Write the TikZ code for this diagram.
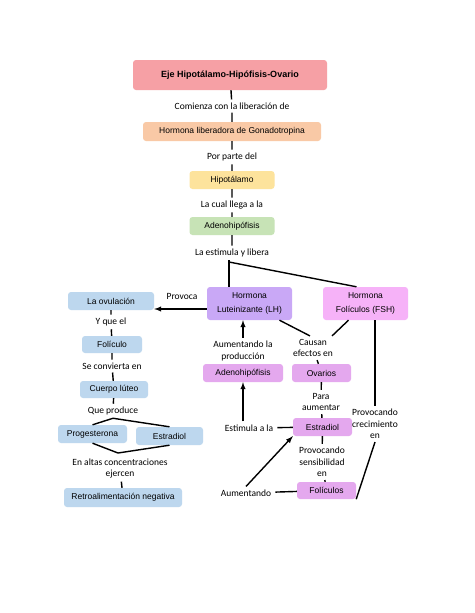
\documentclass[tikz,border=0pt]{standalone}
\usepackage{fontspec}
\setmainfont{Liberation Sans}
\newfontfamily\labelfont{Carlito}
\usepackage{tikz}
\usetikzlibrary{arrows, positioning, calc}
\usepackage{xcolor}
\definecolor{titlecolor}{RGB}{246,160,165}
\definecolor{gnrhcolor}{RGB}{249,201,166}
\definecolor{hipotcolor}{RGB}{253,227,156}
\definecolor{adenocolor}{RGB}{199,227,182}
\definecolor{lhcolor}{RGB}{201,168,246}
\definecolor{fshcolor}{RGB}{246,178,248}
\definecolor{ovcolor}{RGB}{189,215,238}
\definecolor{effcolor}{RGB}{228,168,238}

\begin{document}
\begin{tikzpicture}[
    x=1pt, y=-1pt,
    box/.style={rectangle, rounded corners=3pt, minimum height=18pt, align=center, inner sep=1pt, font=\fontsize{8.5}{10.5}\selectfont},
    lbl/.style={align=center, inner xsep=4pt, inner ysep=3pt, font=\labelfont\fontsize{9.5}{11.5}\selectfont},
    link/.style={line width=1.4pt},
    arr/.style={line width=1.4pt, -latex}
]
\fill[white] (0,0) rectangle (474,613);
\useasboundingbox (0,0) rectangle (474,613);

\node[box, minimum width=194pt, minimum height=30pt, fill=titlecolor, font=\fontsize{9}{11}\selectfont\bfseries] (title) at (230,75) {Eje Hipotálamo-Hipófisis-Ovario};
\node[lbl] (comienza) at (232,106) {Comienza con la liberación de};
\node[box, minimum width=178pt, minimum height=19pt, fill=gnrhcolor] (gnrh) at (232,131.5) {Hormona liberadora de Gonadotropina};
\node[lbl] (porparte) at (232,157) {Por parte del};
\node[box, minimum width=85pt, fill=hipotcolor] (hipot) at (232,180) {Hipotálamo};
\node[lbl] (llega) at (232,205) {La cual llega a la};
\node[box, minimum width=85pt, fill=adenocolor] (adeno) at (232,226) {Adenohipófisis};
\node[lbl] (libera) at (232,253) {La estimula y libera};

\node[box, minimum width=85pt, minimum height=33pt, fill=lhcolor] (lh) at (249.5,303.5) {Hormona\\[4pt]Luteinizante (LH)};
\node[box, minimum width=85pt, minimum height=33pt, fill=fshcolor] (fsh) at (365.5,303.5) {Hormona\\[4pt]Folículos (FSH)};

\node[box, minimum width=86pt, fill=ovcolor] (ovulacion) at (111,301) {La ovulación};
\node[lbl] (provoca) at (182,296) {Provoca};
\node[lbl] (yque) at (111,322) {Y que el};
\node[box, minimum width=60pt, minimum height=17pt, fill=ovcolor] (foliculo) at (112,344.5) {Folículo};
\node[lbl] (convierte) at (112,366) {Se convierta en};
\node[box, minimum width=68pt, minimum height=17pt, fill=ovcolor] (cuerpo) at (114,389.5) {Cuerpo lúteo};
\node[lbl] (produce) at (113,411) {Que produce};
\node[box, minimum width=69pt, fill=ovcolor] (proge) at (92.5,434) {Progesterona};
\node[box, minimum width=67pt, fill=ovcolor] (estraleft) at (169.5,436) {Estradiol};
\node[lbl] (altas) at (120,468.5) {En altas concentraciones\\ejercen};
\node[box, minimum width=118pt, minimum height=19pt, fill=ovcolor] (retro) at (123,497.5) {Retroalimentación negativa};

\node[lbl] (aumprod) at (243,351) {Aumentando la\\producción};
\node[box, minimum width=80pt, fill=effcolor] (adenotwo) at (243,373) {Adenohipófisis};
\node[lbl] (estimula) at (249,428) {Estimula a la};
\node[lbl] (aumentando) at (246,493) {Aumentando};

\node[lbl] (causan) at (313,348) {Causan\\efectos en};
\node[box, minimum width=59pt, fill=effcolor] (ovarios) at (321.5,373) {Ovarios};
\node[lbl] (para) at (321,402) {Para\\aumentar};
\node[box, minimum width=59pt, fill=effcolor] (estraright) at (322.5,427) {Estradiol};
\node[lbl] (sensib) at (322,462) {Provocando\\sensibilidad\\en};
\node[box, minimum width=59pt, minimum height=17pt, fill=effcolor] (foliculos) at (326.5,490.5) {Folículos};
\node[lbl] (crecim) at (375,424) {Provocando\\crecimiento\\en};

\coordinate (split) at (229,262);
\coordinate (merge) at (118,453);

\draw[link] (title) -- (comienza) -- (gnrh) -- (porparte) -- (hipot) -- (llega) -- (adeno) -- (libera);
\draw[link] (libera.south -| split) -- (split) -- (split |- lh.north);
\draw[link] (split) -- ($(fsh.north)+(-9,0)$);
\draw[arr] ([yshift=-5.5pt]lh.west) -- ([yshift=-5.5pt]lh.west -| ovulacion.east);
\draw[link] (ovulacion) -- (yque) -- (foliculo) -- (convierte) -- (cuerpo) -- (produce);
\draw[link] (proge.north) -- (produce.south) -- (estraleft.north);
\draw[link] (proge.south) -- (merge) -- (estraleft.south);
\draw[link] (altas) -- (retro);

\draw[link] ($(lh.south)+(30,0)$) -- ($(causan.north)+(-3,0)$);
\draw[link] ($(fsh.south)+(-17,0)$) -- ($(causan.north)+(19,0)$);
\draw[link] (causan) -- (ovarios) -- (para) -- (estraright) -- (sensib) -- (foliculos);
\draw[arr] (aumprod) -- (aumprod |- lh.south);
\draw[arr] (estimula.north -| adenotwo) -- (adenotwo);
\draw[link] (estimula) -- (estraright);
\draw[link] (aumentando) -- (foliculos);
\draw[arr] (aumentando.north) -- (estraright.south west);
\draw[link] (crecim.north) -- (crecim.north |- fsh.south);
\draw[link] (crecim.south) -- (foliculos.south east);
\end{tikzpicture}
\end{document}
